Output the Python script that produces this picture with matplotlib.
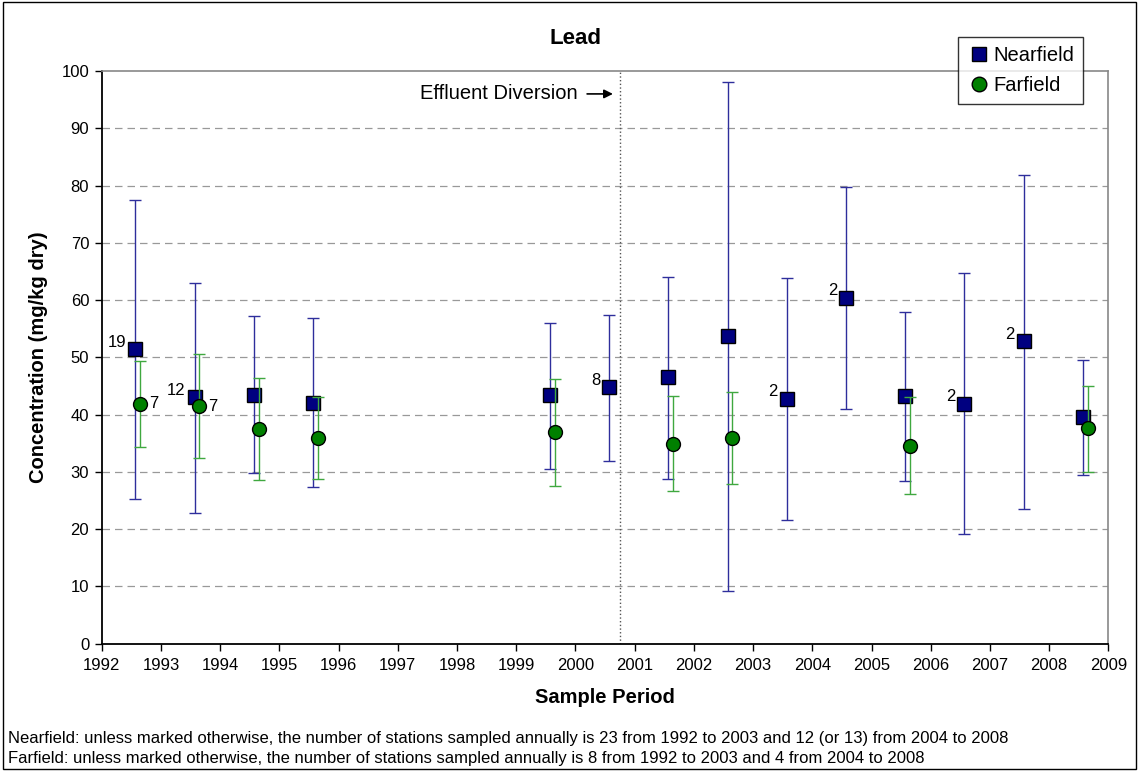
import matplotlib.pyplot as plt
import matplotlib.patches as mpatches
from matplotlib.lines import Line2D

# values
near_years = [1992, 1993, 1994, 1995, 1999, 2000, 2001, 2002, 2003, 2004, 2005, 2006, 2007, 2008]
near_mean = [51.4, 43.0, 43.5, 42.1, 43.4, 44.8, 46.5, 53.7, 42.8, 60.4, 43.2, 41.9, 52.8, 39.5]
near_hi = [77.5, 63.0, 57.2, 56.8, 56.0, 57.4, 64.1, 98.1, 63.8, 79.8, 57.9, 64.7, 81.8, 49.5]
near_lo = [25.3, 22.8, 29.8, 27.4, 30.5, 31.9, 28.7, 9.2, 21.6, 41.0, 28.4, 19.1, 23.6, 29.4]
near_notes = {1992: '19', 1993: '12', 2000: '8', 2003: '2', 2004: '2', 2006: '2', 2007: '2'}

far_years = [1992, 1993, 1994, 1995, 1999, 2001, 2002, 2005, 2008]
far_mean = [41.9, 41.5, 37.5, 35.9, 37.0, 34.9, 35.9, 34.6, 37.6]
far_hi = [49.3, 50.5, 46.4, 43.0, 46.3, 43.2, 44.0, 43.1, 45.0]
far_lo = [34.4, 32.5, 28.5, 28.7, 27.5, 26.7, 27.8, 26.1, 30.0]
far_notes = {1992: '7', 1993: '7'}

diversion = 2000.75
year_ticks = list(range(1992, 2010))

footnotes = [
    'Nearfield: unless marked otherwise, the number of stations sampled annually is 23 from 1992 to 2003 and 12 (or 13) from 2004 to 2008',
    'Farfield: unless marked otherwise, the number of stations sampled annually is 8 from 1992 to 2003 and 4 from 2004 to 2008',
]

plt.rcParams['font.family'] = ['Liberation Sans', 'DejaVu Sans']

fig = plt.figure(figsize=(11.39, 7.71), dpi=100)
ax = fig.add_axes([0.0893, 0.1651, 0.9731 - 0.0893, 0.9079 - 0.1651])

NEAR_OFF, FAR_OFF = 0.57, 0.65
nx = [y + NEAR_OFF for y in near_years]
fx = [y + FAR_OFF for y in far_years]

# dashed grid
for v in range(10, 100, 10):
    ax.axhline(v, color='#999999', lw=0.9, ls=(0, (6, 4)), zorder=0)

ax.axvline(diversion, color='#555555', lw=1.0, ls=':', zorder=1)

ax.errorbar(nx, near_mean,
            yerr=[[m - l for m, l in zip(near_mean, near_lo)],
                  [h - m for m, h in zip(near_mean, near_hi)]],
            fmt='none', ecolor='#2e2e9c', elinewidth=1.0, capsize=4, capthick=1.0, zorder=2)
ax.plot(nx, near_mean, 's', ms=9.5, mfc='#000080', mec='black', mew=1.0, ls='none', zorder=3,
        label='Nearfield')

ax.errorbar(fx, far_mean,
            yerr=[[m - l for m, l in zip(far_mean, far_lo)],
                  [h - m for m, h in zip(far_mean, far_hi)]],
            fmt='none', ecolor='#3fa83f', elinewidth=1.0, capsize=4, capthick=1.0, zorder=4)
ax.plot(fx, far_mean, 'o', ms=10, mfc='#008000', mec='black', mew=1.0, ls='none', zorder=5,
        label='Farfield')

for x, y, yr in zip(nx, near_mean, near_years):
    if yr in near_notes:
        ax.annotate(near_notes[yr], (x, y), xytext=(-9, 7), textcoords='offset pixels',
                    ha='right', va='center', fontsize=12, zorder=6)
for x, y, yr in zip(fx, far_mean, far_years):
    if yr in far_notes:
        ax.annotate(far_notes[yr], (x, y), xytext=(9, 0), textcoords='offset pixels',
                    ha='left', va='center', fontsize=12, zorder=6)

# effluent diversion label and arrow
ax.text(2000.03, 96, 'Effluent Diversion', ha='right', va='center', fontsize=14.5)
ax.annotate('', xy=(2000.68, 96), xytext=(2000.15, 96),
            arrowprops=dict(arrowstyle='-|>', color='black', lw=1.2, mutation_scale=13))

ax.set_xlim(1992, 2009)
ax.set_ylim(0, 100)
ax.set_xticks(year_ticks)
ax.set_yticks(range(0, 101, 10))
ax.tick_params(axis='both', direction='out', length=5, width=1, labelsize=12, pad=4)
ax.tick_params(axis='x', pad=5)

for side in ['left', 'bottom']:
    ax.spines[side].set_color('black')
    ax.spines[side].set_linewidth(1.3)
for side in ['top', 'right']:
    ax.spines[side].set_color('#888888')
    ax.spines[side].set_linewidth(1.2)

ax.set_xlabel('Sample Period', fontsize=14.5, fontweight='bold', labelpad=11)
ax.set_ylabel('Concentration (mg/kg dry)', fontsize=14.5, fontweight='bold', labelpad=10)
fig.text(0.505, 1 - 39 / 771, 'Lead', ha='center', va='center', fontsize=16, fontweight='bold')

handles = [Line2D([], [], marker='s', ms=10, mfc='#000080', mec='black', ls='none'),
           Line2D([], [], marker='o', ms=10.5, mfc='#008000', mec='black', ls='none')]
leg = fig.legend(handles, ['Nearfield', 'Farfield'], loc='upper left',
                 bbox_to_anchor=(958 / 1139, 1 - 37 / 771), borderaxespad=0, fontsize=14.5,
                 frameon=True, fancybox=False, edgecolor='black', handletextpad=0.1,
                 handlelength=1.2, borderpad=0.45, labelspacing=0.55)
leg.get_frame().set_linewidth(1.0)
leg.set_zorder(10)

fig.text(8 / 1139, 1 - 738 / 771, footnotes[0], ha='left', va='center', fontsize=12)
fig.text(8 / 1139, 1 - 758 / 771, footnotes[1], ha='left', va='center', fontsize=12)

fig.patches.append(mpatches.Rectangle((0.003, 0.003), 0.994, 0.994, transform=fig.transFigure,
                                      fill=False, edgecolor='black', lw=1.0))

fig.savefig('out.png', dpi=100)
